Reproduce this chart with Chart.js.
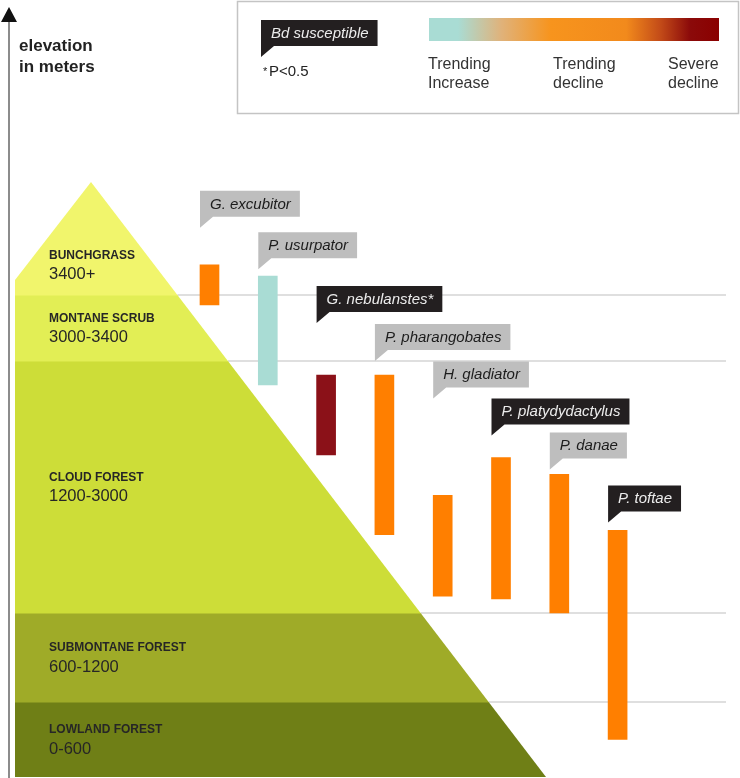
<!DOCTYPE html>
<html>
<head>
<meta charset="utf-8">
<script src="https://cdn.jsdelivr.net/npm/chart.js@4.4.1/dist/chart.umd.min.js"></script>
<style>
  html, body { margin: 0; padding: 0; background: #fff; }
  #wrap { width: 740px; height: 778px; }
</style>
</head>
<body>
<div id="wrap"><canvas id="myChart" width="740" height="778"></canvas></div>
<script>
// species elevation ranges (m)
const species = ['G. excubitor', 'P. usurpator', 'G. nebulanstes', 'P. pharangobates',
                 'H. gladiator', 'P. platydydactylus', 'P. danae', 'P. toftae'];
const rangeLow  = [3340, 2830, 2330, 1760, 1320, 1300, 1200, 300];
const rangeHigh = [3560, 3500, 2900, 2900, 2040, 2310, 2190, 1790];
const trend = ['decline', 'increase', 'severe', 'decline', 'decline', 'decline', 'decline', 'decline'];
const bdSusceptible = [false, false, true, false, false, true, false, true];
const significant = [false, false, true, false, false, false, false, false];

// elevation zones, bottom to top
const zoneNames  = ['LOWLAND FOREST', 'SUBMONTANE FOREST', 'CLOUD FOREST', 'MONTANE SCRUB', 'BUNCHGRASS'];
const zoneRanges = ['0-600', '600-1200', '1200-3000', '3000-3400', '3400+'];
const zoneBreaks = [0, 600, 1200, 3000, 3400, 4000];

const legendLabels = [['Trending', 'Increase'], ['Trending', 'decline'], ['Severe', 'decline']];

// drawing constants (not data)
const bandHeights = [75, 89, 252, 66, 113];   // the graphic is not drawn to scale
const zoneColors = ['#6f7f16', '#9fab28', '#cddd38', '#e2ee55', '#f1f56c'];
const trendColors = { increase: '#a9dcd4', decline: '#ff7f00', severe: '#8b1118' };
const calloutGap = [37, 7, 52, 14, 97, 22, 5, 8];
const FONT = '"Liberation Sans", Arial, Helvetica, sans-serif';

// piecewise elevation scale: each zone gets its own height
class ZoneScale extends Chart.LinearScale {
  getPixelForValue(value) {
    const total = bandHeights.reduce((a, b) => a + b, 0);
    let acc = 0;
    for (let i = 0; i < bandHeights.length; i++) {
      const lo = zoneBreaks[i], hi = zoneBreaks[i + 1];
      if (value <= hi || i === bandHeights.length - 1) {
        acc += (value - lo) / (hi - lo) * bandHeights[i];
        break;
      }
      acc += bandHeights[i];
    }
    return this.bottom - acc / total * (this.bottom - this.top);
  }
  getValueForPixel(pixel) {
    const total = bandHeights.reduce((a, b) => a + b, 0);
    let acc = (this.bottom - pixel) / (this.bottom - this.top) * total;
    for (let i = 0; i < bandHeights.length; i++) {
      if (acc <= bandHeights[i] || i === bandHeights.length - 1) {
        return zoneBreaks[i] + acc / bandHeights[i] * (zoneBreaks[i + 1] - zoneBreaks[i]);
      }
      acc -= bandHeights[i];
    }
  }
}
ZoneScale.id = 'zone';
ZoneScale.defaults = {};
Chart.register(ZoneScale);

function drawCallout(ctx, left, tipY, text, dark) {
  ctx.font = 'italic 15px ' + FONT;
  const w = ctx.measureText(text).width + 19;
  const bottom = tipY - 11, top = bottom - 26;
  ctx.beginPath();
  ctx.moveTo(left, top);
  ctx.lineTo(left + w, top);
  ctx.lineTo(left + w, bottom);
  ctx.lineTo(left + 13, bottom);
  ctx.lineTo(left, tipY);
  ctx.closePath();
  ctx.fillStyle = dark ? '#231f20' : '#bebebe';
  ctx.fill();
  ctx.fillStyle = dark ? '#ececec' : '#1c1c1c';
  ctx.textBaseline = 'middle';
  ctx.textAlign = 'left';
  ctx.fillText(text, left + 10, top + 13.5);
}

const backdrop = {
  id: 'backdrop',
  beforeDatasetsDraw(chart) {
    const ctx = chart.ctx;
    const y = chart.scales.y;
    const top = y.getPixelForValue(zoneBreaks[zoneBreaks.length - 1]);
    const bottom = y.getPixelForValue(0);
    const apexX = 91, leftX = 15, shoulderY = 280, baseX = 546;
    const slopeX = py => apexX + (py - top) * (baseX - apexX) / (bottom - top);

    ctx.save();
    // zone boundary lines
    ctx.strokeStyle = '#d5d5d5';
    ctx.lineWidth = 1.5;
    zoneBreaks.slice(1, -1).forEach(v => {
      const py = y.getPixelForValue(v);
      ctx.beginPath();
      ctx.moveTo(slopeX(py), py);
      ctx.lineTo(726, py);
      ctx.stroke();
    });

    // mountain
    ctx.save();
    ctx.beginPath();
    ctx.moveTo(leftX, bottom);
    ctx.lineTo(leftX, shoulderY);
    ctx.lineTo(apexX, top);
    ctx.lineTo(baseX, bottom);
    ctx.closePath();
    ctx.clip();
    zoneColors.forEach((c, i) => {
      const y0 = y.getPixelForValue(zoneBreaks[i]);
      const y1 = y.getPixelForValue(zoneBreaks[i + 1]);
      ctx.fillStyle = c;
      ctx.fillRect(0, y1, 740, y0 - y1 + 0.5);
    });
    ctx.restore();

    // zone labels
    ctx.fillStyle = '#262626';
    ctx.textAlign = 'left';
    ctx.textBaseline = 'middle';
    zoneNames.forEach((name, i) => {
      const y0 = y.getPixelForValue(zoneBreaks[i]);
      const y1 = y.getPixelForValue(zoneBreaks[i + 1]);
      const cy = i === zoneNames.length - 1 ? y0 - 30 : (y0 + y1) / 2;
      ctx.font = 'bold 12px ' + FONT;
      ctx.fillText(name, 49, cy - 9.5);
      ctx.font = '16.5px ' + FONT;
      ctx.fillText(zoneRanges[i], 49, cy + 9.5);
    });

    // elevation axis arrow
    ctx.strokeStyle = '#666';
    ctx.lineWidth = 1.5;
    ctx.beginPath();
    ctx.moveTo(9, 20);
    ctx.lineTo(9, 778);
    ctx.stroke();
    ctx.fillStyle = '#111';
    ctx.beginPath();
    ctx.moveTo(9, 7);
    ctx.lineTo(17, 22);
    ctx.lineTo(1, 22);
    ctx.closePath();
    ctx.fill();
    ctx.fillStyle = '#222';
    ctx.font = 'bold 17px ' + FONT;
    ctx.fillText('elevation', 19, 46);
    ctx.fillText('in meters', 19, 67);

    // legend box
    ctx.strokeStyle = '#c4c4c4';
    ctx.lineWidth = 1.5;
    ctx.strokeRect(237.5, 1.5, 501, 112);
    drawCallout(ctx, 261, 57, 'Bd susceptible', true);
    ctx.fillStyle = '#222';
    ctx.font = '11px ' + FONT;
    ctx.fillText('*', 263, 72);
    ctx.font = '15px ' + FONT;
    ctx.fillText('P<0.5', 269, 72);

    const gx0 = 429, gx1 = 719;
    const grad = ctx.createLinearGradient(gx0, 0, gx1, 0);
    grad.addColorStop(0, trendColors.increase);
    grad.addColorStop(0.1, trendColors.increase);
    grad.addColorStop(0.25, '#e0b27a');
    grad.addColorStop(0.42, '#f7941d');
    grad.addColorStop(0.68, '#f28a1c');
    grad.addColorStop(0.8, '#c24a18');
    grad.addColorStop(0.9, '#8b0a0a');
    grad.addColorStop(1, '#8a0000');
    ctx.fillStyle = grad;
    ctx.fillRect(gx0, 18, gx1 - gx0, 23);

    ctx.fillStyle = '#333';
    ctx.font = '16px ' + FONT;
    [428, 553, 668].forEach((lx, i) => {
      ctx.fillText(legendLabels[i][0], lx, 65);
      ctx.fillText(legendLabels[i][1], lx, 84);
    });
    ctx.restore();
  }
};

const callouts = {
  id: 'callouts',
  afterDatasetsDraw(chart) {
    const ctx = chart.ctx;
    const meta = chart.getDatasetMeta(0);
    ctx.save();
    meta.data.forEach((bar, i) => {
      const left = bar.x - bar.width / 2;
      drawCallout(ctx, left, bar.y - calloutGap[i], species[i] + (significant[i] ? '*' : ''), bdSusceptible[i]);
    });
    ctx.restore();
  }
};

const ctx = document.getElementById('myChart').getContext('2d');
new Chart(ctx, {
  type: 'bar',
  data: {
    labels: species,
    datasets: [{
      label: 'Elevation range',
      data: species.map((_, i) => [rangeLow[i], rangeHigh[i]]),
      backgroundColor: trend.map(t => trendColors[t]),
      borderWidth: 0,
      barThickness: 19
    }]
  },
  options: {
    responsive: false,
    animation: false,
    devicePixelRatio: 1,
    layout: { padding: { top: 182, bottom: 1, left: 180.35, right: 93.25 } },
    scales: {
      x: { display: false },
      y: { type: 'zone', min: 0, max: 4000, display: false }
    },
    plugins: {
      legend: { display: false },
      tooltip: { enabled: false }
    }
  },
  plugins: [backdrop, callouts]
});
</script>
</body>
</html>
